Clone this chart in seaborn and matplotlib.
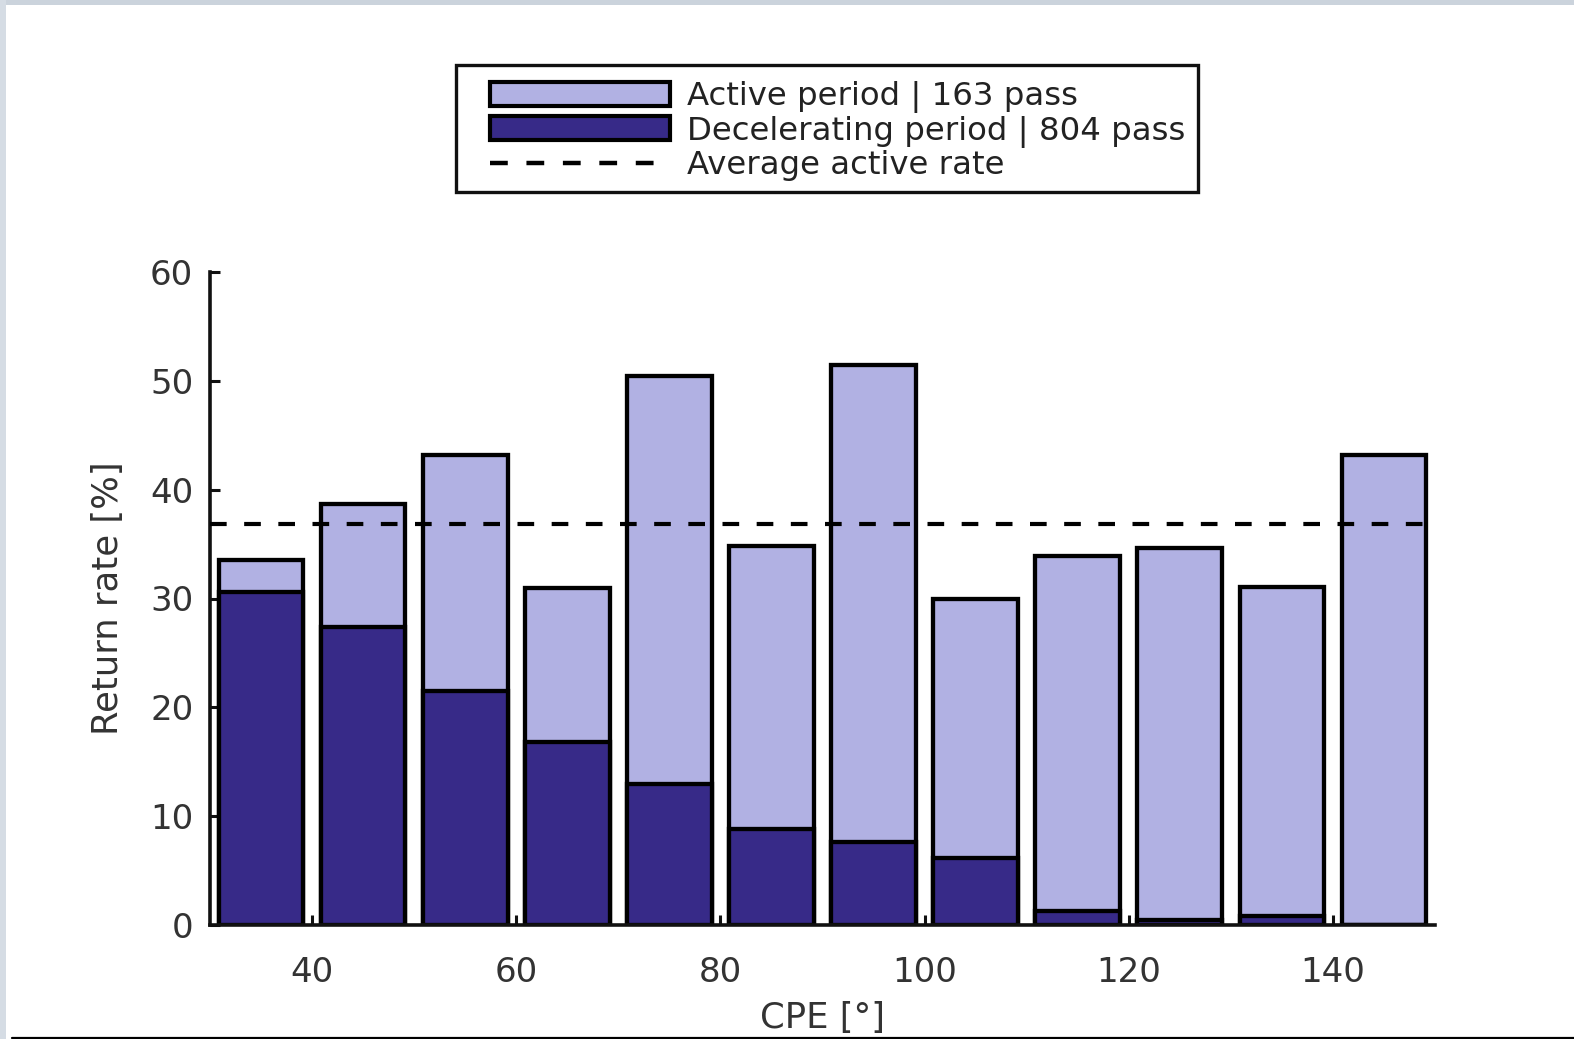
import matplotlib
matplotlib.use("Agg")
import matplotlib.pyplot as plt
import numpy as np
import pandas as pd
import seaborn as sns
from matplotlib.patches import Patch, Rectangle
from matplotlib.lines import Line2D

# Return rate per CPE bin (bin centres in degrees)
cpe_bins = [35, 45, 55, 65, 75, 85, 95, 105, 115, 125, 135, 145]
active_rate = [33.5, 38.7, 43.2, 31.0, 50.4, 34.8, 51.5, 30.0, 33.9, 34.6, 31.1, 43.2]
decel_rate = [30.6, 27.4, 21.5, 16.8, 13.0, 8.8, 7.6, 6.2, 1.3, 0.5, 0.8, 0.0]
average_active = 36.8

legend_labels = ["Active period | 163 pass",
                 "Decelerating period | 804 pass",
                 "Average active rate"]
x_ticks = [40, 60, 80, 100, 120, 140]
y_ticks = [0, 10, 20, 30, 40, 50, 60]
x_label = "CPE [°]"
y_label = "Return rate [%]"

LIGHT = "#B1B1E3"
DARK = "#372A88"
TEXT = "#333333"

sns.set_theme(style="ticks")
plt.rcParams["font.family"] = ["DejaVu Sans"]

W, H = 1574, 1039
fig = plt.figure(figsize=(W / 100, H / 100), dpi=100)
fig.patch.set_facecolor("white")

ax = fig.add_axes([210 / W, 1 - 925 / H, (1435 - 210) / W, (925 - 272) / H])

df = pd.DataFrame({"cpe": cpe_bins, "active": active_rate, "decel": decel_rate})

bar_kw = dict(native_scale=True, saturation=1, edgecolor="black",
              linewidth=3.1, width=0.83, errorbar=None, ax=ax)
sns.barplot(data=df, x="cpe", y="active", color=LIGHT, **bar_kw)
sns.barplot(data=df, x="cpe", y="decel", color=DARK, **bar_kw)

ax.axhline(average_active, color="black", lw=3, dashes=(4, 4.2), zorder=5)

ax.set_xlim(30, 150)
ax.set_ylim(0, 60)
ax.set_xticks(x_ticks)
ax.set_yticks(y_ticks)
ax.set_xlabel(x_label, fontsize=25.5, color=TEXT, labelpad=9)
ax.set_ylabel(y_label, fontsize=25.5, color=TEXT, labelpad=18)

for side in ("top", "right"):
    ax.spines[side].set_visible(False)
for side in ("left", "bottom"):
    ax.spines[side].set_linewidth(2.6)
    ax.spines[side].set_color("#111111")
ax.tick_params(axis="both", direction="in", length=7, width=2.2,
               color="#111111", labelsize=24.5, labelcolor=TEXT)
ax.tick_params(axis="x", pad=22)
ax.tick_params(axis="y", pad=12)

# legend with a hand-placed frame
handles = [
    Patch(facecolor=LIGHT, edgecolor="black", linewidth=3.0),
    Patch(facecolor=DARK, edgecolor="black", linewidth=3.0),
    Line2D([0], [0], color="black", lw=3.2, dashes=(4, 4.2)),
]
leg = fig.legend(handles, legend_labels, loc="upper left",
                 bbox_to_anchor=(490 / W, 1 - 81 / H), frameon=False,
                 borderpad=0, borderaxespad=0, fontsize=23.3,
                 handlelength=5.55, handleheight=0.75, handletextpad=0.55,
                 labelspacing=0.08)
for t in leg.get_texts():
    t.set_color("#222222")
fig.patches.append(Rectangle((456 / W, 1 - 192 / H), (1198 - 456) / W,
                             (192 - 65) / H, transform=fig.transFigure,
                             facecolor="none", edgecolor="#111111",
                             linewidth=2.4))

# page frame around the figure
fig.patches.append(Rectangle((0, 1 - 5 / H), 1, 5 / H, transform=fig.transFigure,
                             facecolor="#CBD3DC", edgecolor="none"))
fig.patches.append(Rectangle((0, 0), 6 / W, 1, transform=fig.transFigure,
                             facecolor="#D5DCE4", edgecolor="none"))
fig.lines.append(Line2D([12 / W, 1], [1 - 1037.5 / H] * 2,
                        transform=fig.transFigure, color="black", lw=1.6))

fig.savefig("out.png", dpi=100)
